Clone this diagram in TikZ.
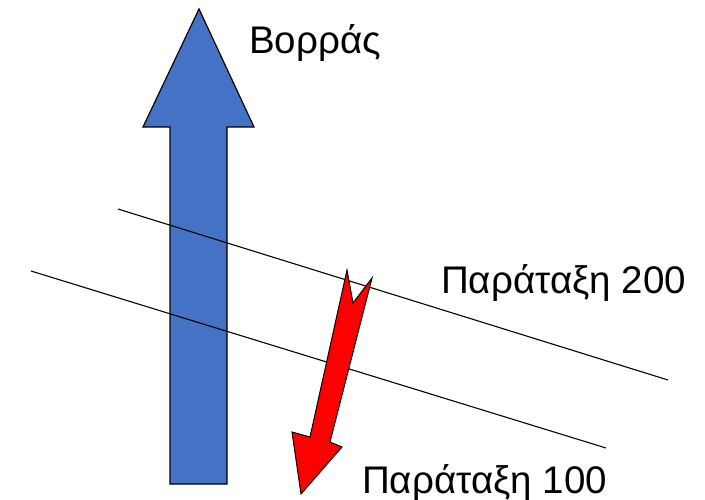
\documentclass[tikz,border=0pt]{standalone}
\usepackage{fontspec}
\setmainfont{Liberation Sans}
\definecolor{northblue}{HTML}{4472C4}
\definecolor{dipred}{HTML}{FF0000}
\begin{document}
\begin{tikzpicture}[x=1pt,y=-1pt,
  shapeline/.style={draw=black,line width=1.2pt,line join=miter},
  strikeline/.style={draw=black,line width=1.1pt},
  lbl/.style={anchor=base west,inner sep=0pt,font=\fontsize{38.5}{42}\selectfont}]
\useasboundingbox (0,0) rectangle (705,500);
% north arrow
\path[shapeline,fill=northblue] (199,9) -- (254,127) -- (227,127) -- (227,484)
  -- (170,484) -- (170,127) -- (143,127) -- cycle;
% strike lines
\coordinate (a1) at (118,209);
\coordinate (a2) at (668,380);
\coordinate (b1) at (31,271);
\coordinate (b2) at (606,448);
\draw[strikeline] (a1) -- (a2);
\draw[strikeline] (b1) -- (b2);
% dip arrow
\path[shapeline,fill=dipred,line width=1pt] (347,270) -- (353,303) -- (372,278)
  -- (330,442) -- (342,447) -- (301,494) -- (292,432) -- (310,437) -- cycle;
% labels
\node[lbl] (north) at (249,54) {Βορράς};
\node[lbl] (p200) at (441,294) {Παράταξη 200};
\node[lbl] (p100) at (362,493) {Παράταξη 100};
\end{tikzpicture}
\end{document}
